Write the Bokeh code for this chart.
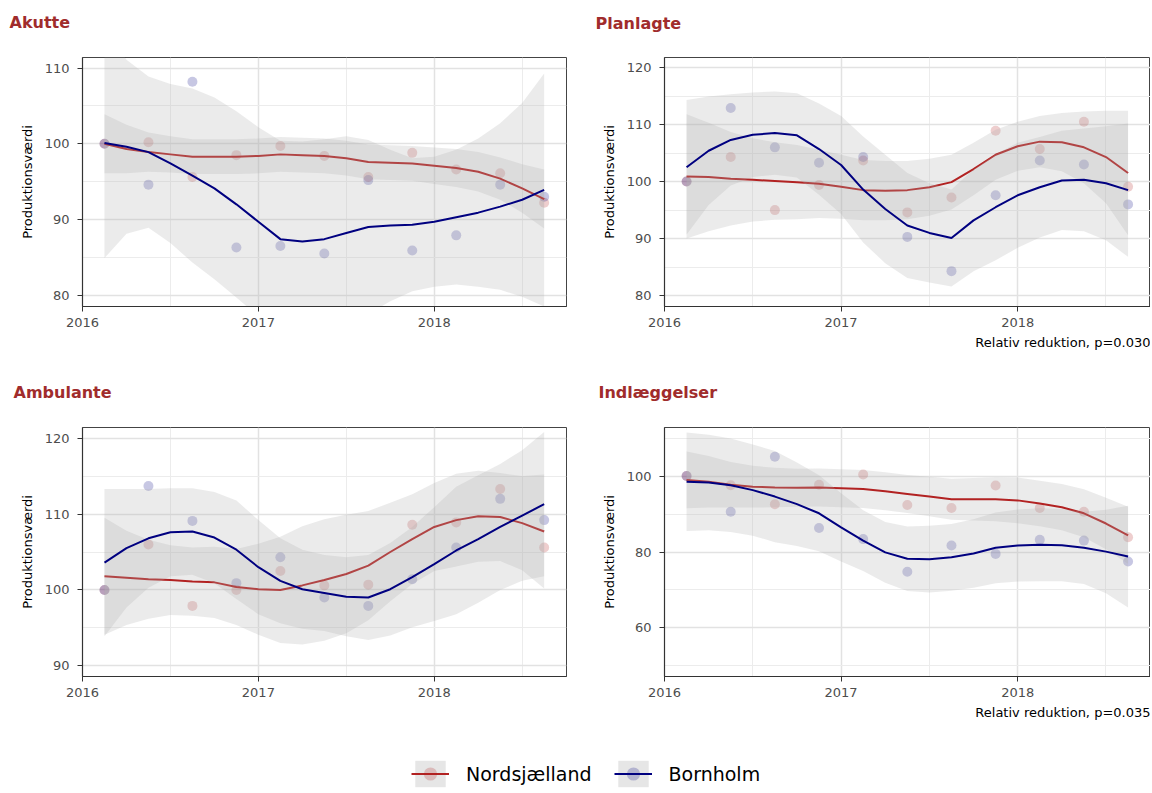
from bokeh.plotting import figure
from bokeh.models import Range1d, FixedTicker, Title, Legend, LegendItem
from bokeh.core.properties import value
from bokeh.layouts import column, row
from bokeh.embed import file_html
from bokeh.resources import INLINE

FONT = "DejaVu Sans"
NORD_COL = "#B22222"
BORN_COL = "#000080"
TITLE_COL = "#A02C2C"

# ---------------- data ----------------
x_quarters = [2016.125, 2016.375, 2016.625, 2016.875, 2017.125, 2017.375,
              2017.625, 2017.875, 2018.125, 2018.375, 2018.625]
x_smooth = [2016.125, 2016.25, 2016.375, 2016.5, 2016.625, 2016.75, 2016.875,
            2017.0, 2017.125, 2017.25, 2017.375, 2017.5, 2017.625, 2017.75,
            2017.875, 2018.0, 2018.125, 2018.25, 2018.375, 2018.5, 2018.625]
x_ticks = [2016, 2017, 2018]
x_minor = [2016.5, 2017.5, 2018.5]

# Akutte
akutte_nord = [100.0, 100.2, 95.6, 98.5, 99.7, 98.4, 95.6, 98.8, 96.6, 96.1, 92.2]
akutte_born = [100.0, 94.6, 108.2, 86.3, 86.5, 85.5, 95.2, 85.9, 87.9, 94.6, 93.0]
akutte_fit_nord = [100.0, 99.3, 98.9, 98.6, 98.3, 98.3, 98.3, 98.4, 98.6, 98.5, 98.4,
                   98.1, 97.6, 97.5, 97.4, 97.1, 96.8, 96.3, 95.4, 94.1, 92.7]
akutte_se_nord = [3.9, 3.2, 2.6, 2.4, 2.3, 2.3, 2.3, 2.3, 2.3, 2.3, 2.3,
                  2.3, 2.3, 2.3, 2.3, 2.4, 2.5, 2.6, 2.8, 3.2, 3.9]
akutte_fit_born = [100.1, 99.6, 98.9, 97.4, 95.8, 94.1, 92.0, 89.7, 87.4, 87.1, 87.4,
                   88.2, 89.0, 89.2, 89.3, 89.7, 90.3, 90.9, 91.7, 92.6, 93.9]
akutte_se_born = [15.2, 11.5, 10.0, 10.5, 11.5, 12.0, 12.3, 12.5, 13.0, 13.2, 13.2,
                  12.8, 11.5, 10.0, 8.8, 8.6, 8.9, 9.8, 11.0, 12.8, 15.4]

# Planlagte
plan_nord = [100.0, 104.3, 95.0, 99.4, 103.7, 94.6, 97.2, 108.9, 105.7, 110.5, 99.1]
plan_born = [100.0, 112.9, 106.0, 103.3, 104.3, 90.3, 84.3, 97.6, 103.7, 103.0, 96.0]
plan_fit_nord = [100.9, 100.8, 100.5, 100.3, 100.1, 99.9, 99.6, 99.1, 98.5, 98.4, 98.5,
                 99.0, 99.9, 102.2, 104.7, 106.2, 107.0, 106.9, 106.0, 104.3, 101.5]
plan_se_nord = [10.9, 9.5, 8.2, 7.3, 6.8, 6.5, 6.0, 5.6, 5.3, 5.2, 5.1,
                5.0, 4.8, 4.6, 4.4, 4.3, 4.5, 5.1, 6.3, 8.1, 10.9]
plan_fit_born = [102.5, 105.4, 107.3, 108.2, 108.5, 108.1, 105.7, 102.9, 98.6, 95.2, 92.3,
                 91.0, 90.1, 93.2, 95.5, 97.6, 99.0, 100.2, 100.3, 99.7, 98.5]
plan_se_born = [11.8, 9.5, 8.0, 7.4, 7.3, 7.4, 8.0, 8.6, 9.3, 9.5, 9.2,
                8.7, 8.5, 8.9, 9.3, 9.2, 8.8, 8.7, 9.0, 10.0, 11.7]

# Ambulante
amb_nord = [100.0, 106.0, 97.9, 100.0, 102.5, 100.6, 100.7, 108.6, 108.9, 113.3, 105.6]
amb_born = [100.0, 113.7, 109.1, 100.9, 104.3, 99.0, 97.9, 101.4, 105.6, 112.0, 109.2]
amb_fit_nord = [101.8, 101.6, 101.4, 101.3, 101.1, 101.0, 100.4, 100.1, 100.0, 100.6, 101.3,
                102.1, 103.2, 105.0, 106.7, 108.3, 109.2, 109.7, 109.6, 108.8, 107.7]
amb_se_nord = [7.7, 6.2, 5.2, 4.6, 4.5, 4.7, 5.0, 6.0, 7.0, 7.8, 8.0,
               7.8, 7.2, 6.5, 5.9, 5.8, 6.1, 6.0, 5.8, 6.2, 7.5]
amb_fit_born = [103.6, 105.5, 106.8, 107.6, 107.7, 106.9, 105.3, 103.0, 101.2, 100.1, 99.6,
                99.1, 99.0, 100.1, 101.7, 103.4, 105.2, 106.7, 108.3, 109.8, 111.3]
amb_se_born = [9.7, 7.8, 6.5, 5.8, 5.7, 6.0, 6.5, 6.2, 5.6, 5.2, 5.0,
               5.2, 5.6, 6.1, 6.6, 7.5, 8.4, 8.4, 8.3, 8.6, 9.5]

# Indlaeggelser
ind_nord = [100.0, 97.6, 92.6, 97.7, 100.4, 92.4, 91.6, 97.5, 91.6, 90.6, 83.9]
ind_born = [100.0, 90.6, 105.1, 86.3, 83.4, 74.8, 81.7, 79.5, 83.2, 83.0, 77.5]
ind_fit_nord = [99.0, 98.5, 97.7, 97.2, 97.0, 96.9, 97.0, 96.8, 96.6, 96.0, 95.3,
                94.6, 93.9, 93.9, 93.9, 93.6, 92.8, 91.8, 90.2, 87.5, 84.4]
ind_se_nord = [7.5, 6.8, 6.0, 5.5, 5.2, 5.0, 5.0, 5.0, 5.0, 5.0, 5.0,
               5.2, 5.4, 5.6, 5.8, 6.0, 6.0, 6.1, 6.3, 6.8, 7.5]
ind_fit_born = [98.5, 98.3, 97.6, 96.3, 94.6, 92.6, 90.2, 86.5, 83.0, 79.9, 78.2,
                78.1, 78.6, 79.6, 81.1, 81.7, 81.9, 81.8, 81.1, 80.1, 78.8]
ind_se_born = [13.0, 12.6, 12.3, 12.0, 12.0, 11.0, 10.0, 9.0, 8.0, 8.0, 8.5,
               8.8, 8.8, 9.0, 9.3, 9.5, 9.6, 9.5, 9.5, 11.0, 13.4]

panel_titles = ["Akutte", "Planlagte", "Ambulante", "Indlæggelser"]
series_names = ["Nordsjælland", "Bornholm"]
y_label = "Produktionsværdi"


def blank_figure(width, height):
    f = figure(width=width, height=height, output_backend="svg", toolbar_location=None,
               x_range=Range1d(0, width), y_range=Range1d(0, height), min_border=0,
               x_axis_type=None, y_axis_type=None, outline_line_color=None)
    f.xgrid.visible = False
    f.ygrid.visible = False
    return f


def title_strip(text, width, tx, ty):
    f = blank_figure(width, 40)
    f.text(x=[tx], y=[ty], text=[text], text_font=value(FONT), text_font_size="16px",
           text_font_style="bold", text_color=TITLE_COL, text_align="left",
           text_baseline="middle")
    return f


def make_panel(ylim, yticks, yminor, nord, born, fit_n, se_n, fit_b, se_b,
               width, bl, br, height, bt, bb, caption=None):
    p = figure(width=width, height=height, output_backend="svg", toolbar_location=None,
               x_range=Range1d(2016.0, 2018.752), y_range=Range1d(*ylim),
               min_border_left=bl, min_border_right=br, min_border_top=bt,
               min_border_bottom=bb)

    xt = FixedTicker(ticks=x_ticks, minor_ticks=x_minor)
    yt = FixedTicker(ticks=yticks, minor_ticks=yminor)
    p.xaxis.ticker = xt
    p.yaxis.ticker = yt
    p.xgrid.ticker = xt
    p.ygrid.ticker = yt
    for g in (p.xgrid, p.ygrid):
        g.grid_line_color = "#E2E2E2"
        g.grid_line_width = 1.5
        g.minor_grid_line_color = "#ECECEC"
        g.minor_grid_line_width = 1
    for ax in (p.xaxis, p.yaxis):
        ax.axis_line_color = "#333333"
        ax.axis_line_width = 1.2
        ax.major_tick_line_color = "#333333"
        ax.major_tick_in = 0
        ax.major_tick_out = 5
        ax.minor_tick_line_color = None
        ax.major_label_text_font = FONT
        ax.major_label_text_font_size = "13px"
        ax.major_label_text_color = "#4D4D4D"
    p.xaxis.major_label_standoff = 6
    p.yaxis.major_label_standoff = 8
    p.yaxis.axis_label = y_label
    p.yaxis.axis_label_text_font = FONT
    p.yaxis.axis_label_text_font_size = "13px"
    p.yaxis.axis_label_text_font_style = "normal"
    p.yaxis.axis_label_text_color = "#000000"
    p.yaxis.axis_label_standoff = 7
    p.outline_line_color = "#444444"
    p.outline_line_width = 1

    # observed points
    p.scatter(x_quarters, nord, size=10, fill_color=NORD_COL, fill_alpha=0.22, line_color=None)
    p.scatter(x_quarters, born, size=10, fill_color=BORN_COL, fill_alpha=0.22, line_color=None)
    # smooth fits with confidence ribbons
    for fit, se, col in ((fit_n, se_n, NORD_COL), (fit_b, se_b, BORN_COL)):
        lo = [f - s for f, s in zip(fit, se)]
        hi = [f + s for f, s in zip(fit, se)]
        p.varea(x=x_smooth, y1=lo, y2=hi, fill_color="#AFAFAF", fill_alpha=0.25)
        p.line(x_smooth, fit, line_color=col, line_width=2)

    if caption:
        cap = Title(text=caption, align="right", text_font=FONT, text_font_size="13px",
                    text_font_style="normal", text_color="#000000", standoff=7)
        p.add_layout(cap, "below")
    return p


t1 = title_strip(panel_titles[0], 590, 9, 18)
t2 = title_strip(panel_titles[1], 560, 5, 17)
t3 = title_strip(panel_titles[2], 590, 13, 18)
t4 = title_strip(panel_titles[3], 560, 8, 18)

p1 = make_panel((78.5, 111.4), [80, 90, 100, 110], [85, 95, 105],
                akutte_nord, akutte_born, akutte_fit_nord, akutte_se_nord,
                akutte_fit_born, akutte_se_born, 590, 82, 24, 330, 17, 64)
p2 = make_panel((78.1, 121.75), [80, 90, 100, 110, 120], [85, 95, 105, 115],
                plan_nord, plan_born, plan_fit_nord, plan_se_nord,
                plan_fit_born, plan_se_born, 560, 74, 0, 330, 17, 64,
                caption="Relativ reduktion, p=0.030")
p3 = make_panel((88.6, 121.4), [90, 100, 110, 120], [95, 105, 115],
                amb_nord, amb_born, amb_fit_nord, amb_se_nord,
                amb_fit_born, amb_se_born, 590, 82, 24, 320, 17, 54)
p4 = make_panel((47.2, 112.8), [60, 80, 100], [50, 70, 90, 110],
                ind_nord, ind_born, ind_fit_nord, ind_se_nord,
                ind_fit_born, ind_se_born, 560, 74, 0, 320, 17, 54,
                caption="Relativ reduktion, p=0.035")

# legend strip
lg = figure(width=1150, height=60, output_backend="svg", toolbar_location=None,
            x_range=Range1d(0, 1), y_range=Range1d(0, 1), min_border=0,
            x_axis_type=None, y_axis_type=None, outline_line_color=None)
lg.xgrid.visible = False
lg.ygrid.visible = False
items = []
for name, col in zip(series_names, [NORD_COL, BORN_COL]):
    q = lg.quad(left=[5], right=[6], top=[6], bottom=[5], fill_color="#E6E6E6", line_color=None)
    ln = lg.line([5, 6], [5, 6], line_color=col, line_width=2)
    sc = lg.scatter([5], [5], size=10, fill_color=col, fill_alpha=0.22, line_color=None)
    items.append(LegendItem(label=name, renderers=[q, ln, sc]))
legend = Legend(items=items, orientation="horizontal", location=(411, 0),
                glyph_width=38, glyph_height=33, label_standoff=17, spacing=22,
                padding=0, margin=0, border_line_color=None, background_fill_alpha=0,
                label_text_font=FONT, label_text_font_size="19px", label_text_color="#000000")
lg.add_layout(legend, "center")

layout = column(row(t1, t2), row(p1, p2), row(t3, t4), row(p3, p4), lg)
open("out.html", "w").write(file_html(layout, INLINE))
